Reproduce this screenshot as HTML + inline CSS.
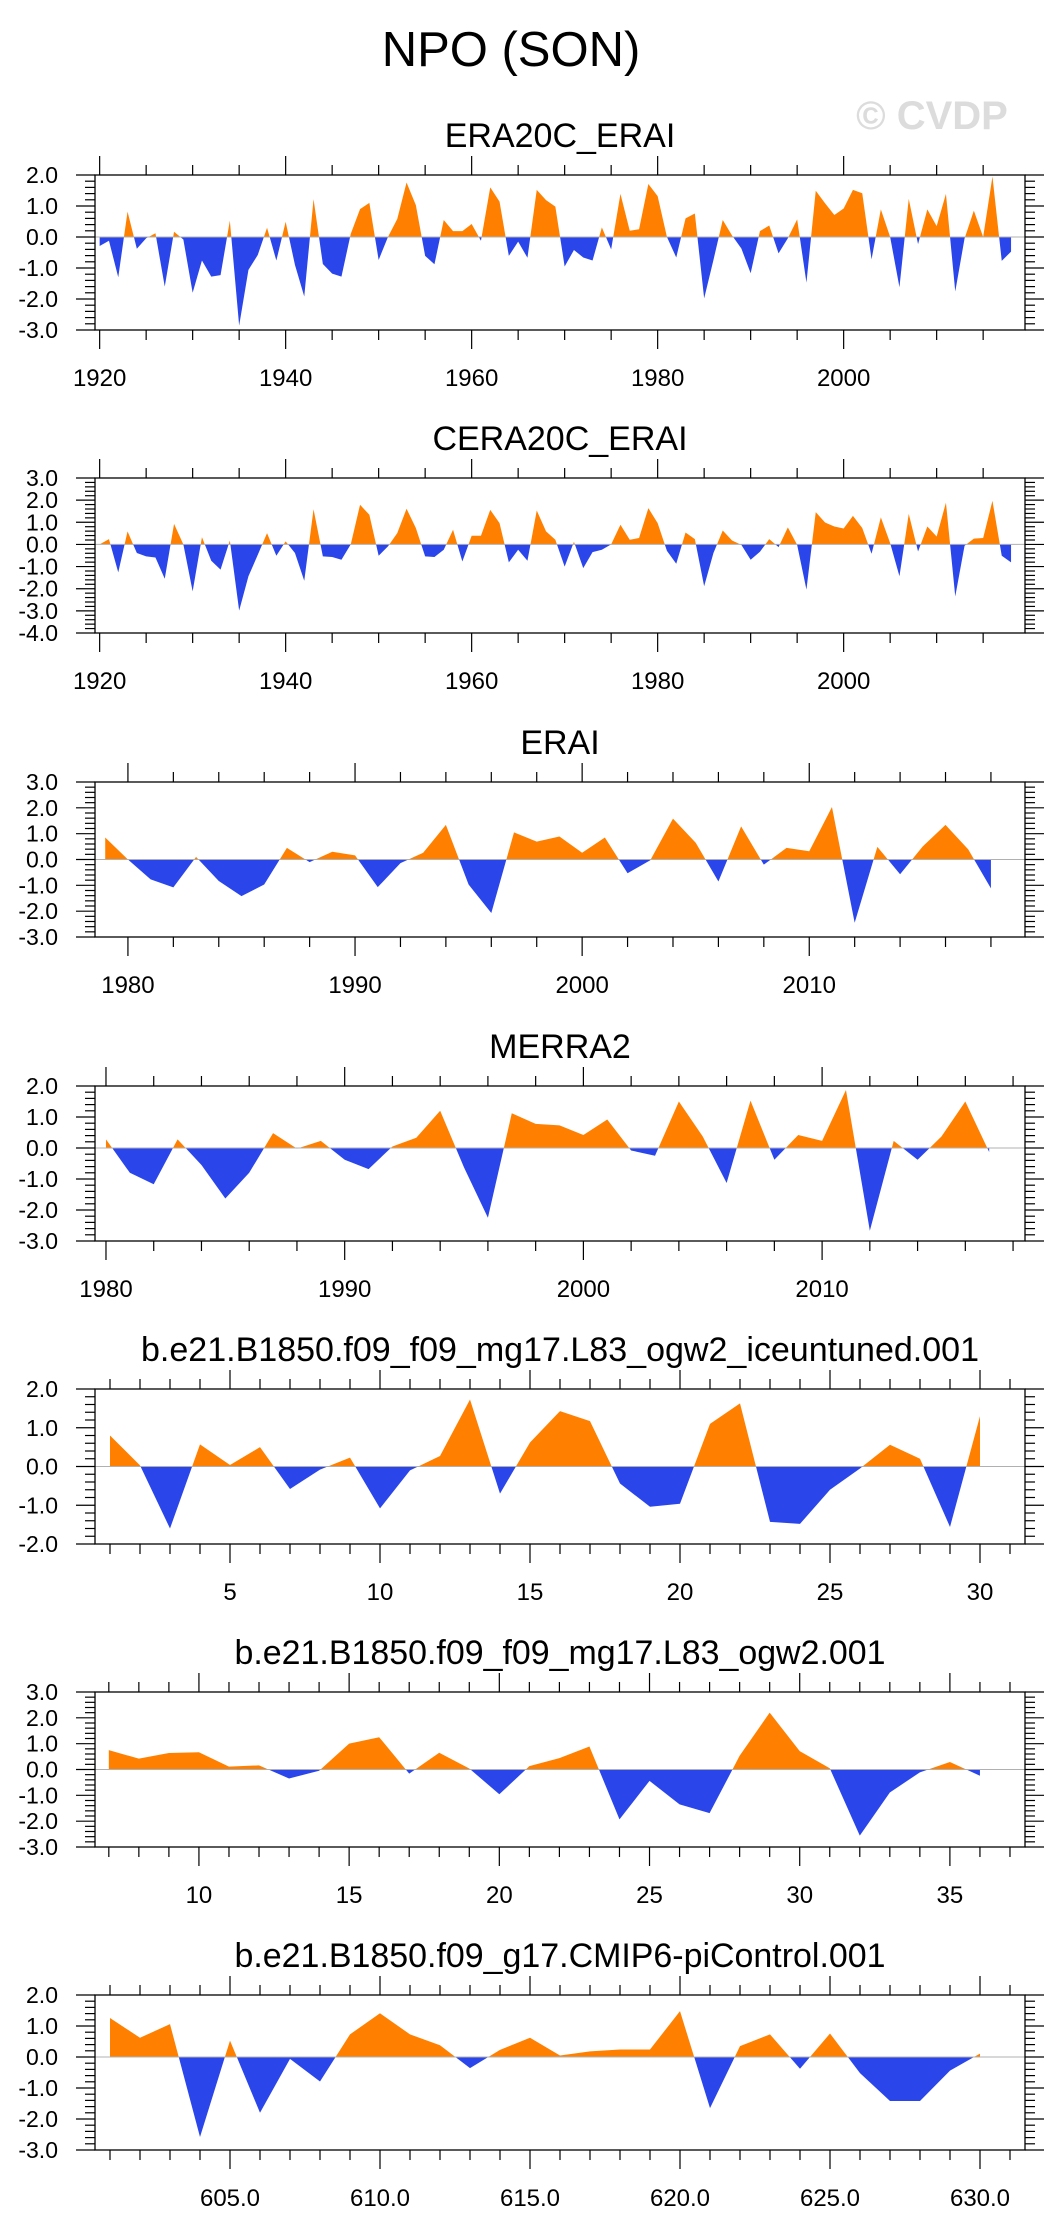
<!DOCTYPE html>
<html><head><meta charset="utf-8"><style>
html,body{margin:0;padding:0;background:#fff;}
svg{display:block;}
text{font-family:"Liberation Sans",Arial,sans-serif;fill:#000;}
</style></head>
<body>
<svg id="chart" width="1058" height="2236" viewBox="0 0 1058 2236" xmlns="http://www.w3.org/2000/svg">
<text x="511" y="66" font-size="49" text-anchor="middle">NPO (SON)</text>
<text x="932" y="129" font-size="40" font-weight="bold" text-anchor="middle" style="fill:#dcdcdc">© CVDP</text>
</svg>
<script>
// ---- data arrays ----
const era20cStart = 1920;
const era20cValues = [-0.29,-0.12,-1.3,0.82,-0.38,-0.04,0.12,-1.6,0.17,-0.08,-1.8,-0.76,-1.28,-1.23,0.53,-2.86,-1.06,-0.58,0.3,-0.76,0.49,-0.9,-1.92,1.22,-0.87,-1.18,-1.28,0.1,0.9,1.1,-0.74,0.0,0.58,1.76,1.03,-0.61,-0.88,0.55,0.19,0.19,0.42,-0.12,1.6,1.14,-0.61,-0.15,-0.67,1.52,1.19,0.98,-0.95,-0.42,-0.66,-0.76,0.31,-0.4,1.39,0.2,0.25,1.71,1.32,0.0,-0.66,0.6,0.76,-1.98,-0.74,0.55,0.05,-0.37,-1.17,0.19,0.37,-0.53,-0.04,0.57,-1.47,1.49,1.09,0.71,0.92,1.52,1.41,-0.72,0.89,0.0,-1.62,1.23,-0.23,0.89,0.35,1.39,-1.76,-0.05,0.85,0.0,1.95,-0.77,-0.47];
const cera20cStart = 1920;
const cera20cValues = [0.0,0.24,-1.26,0.59,-0.39,-0.54,-0.59,-1.55,0.93,0.0,-2.12,0.33,-0.74,-1.14,0.18,-2.99,-1.44,-0.47,0.51,-0.51,0.14,-0.39,-1.64,1.59,-0.54,-0.57,-0.69,0.0,1.79,1.34,-0.51,-0.09,0.51,1.61,0.74,-0.54,-0.57,-0.24,0.66,-0.77,0.39,0.39,1.56,0.96,-0.81,-0.24,-0.74,1.53,0.59,0.21,-1.0,0.12,-1.07,-0.35,-0.24,0.0,0.89,0.21,0.29,1.64,0.96,-0.29,-0.87,0.54,0.24,-1.89,-0.39,0.63,0.18,-0.02,-0.69,-0.33,0.24,-0.12,0.77,-0.02,-2.04,1.46,0.99,0.81,0.72,1.29,0.74,-0.42,1.22,0.06,-1.44,1.38,-0.32,0.81,0.36,1.89,-2.35,-0.06,0.26,0.29,1.97,-0.51,-0.81];
const eraiStart = 1979;
const eraiValues = [0.85,0.0,-0.77,-1.08,0.1,-0.83,-1.42,-0.97,0.45,-0.1,0.3,0.16,-1.07,-0.14,0.26,1.34,-0.97,-2.07,1.05,0.69,0.89,0.26,0.85,-0.53,-0.03,1.58,0.65,-0.85,1.28,-0.2,0.45,0.32,2.03,-2.45,0.49,-0.57,0.51,1.34,0.39,-1.12];
const merra2Start = 1980;
const merra2Values = [0.28,-0.8,-1.17,0.28,-0.55,-1.63,-0.8,0.48,-0.02,0.23,-0.38,-0.68,0.05,0.33,1.2,-0.63,-2.25,1.12,0.78,0.73,0.42,0.92,-0.08,-0.25,1.5,0.37,-1.13,1.53,-0.38,0.42,0.23,1.87,-2.67,0.23,-0.38,0.37,1.5,-0.13];
const iceStart = 1;
const iceValues = [0.8,0.03,-1.6,0.57,0.04,0.5,-0.58,-0.08,0.23,-1.08,-0.1,0.27,1.73,-0.7,0.62,1.43,1.17,-0.44,-1.04,-0.96,1.1,1.63,-1.43,-1.48,-0.6,-0.05,0.56,0.2,-1.56,1.3];
const ogwStart = 7;
const ogwValues = [0.75,0.42,0.64,0.67,0.11,0.16,-0.35,-0.05,1.0,1.25,-0.16,0.65,0.04,-0.96,0.13,0.44,0.89,-1.93,-0.44,-1.35,-1.69,0.53,2.2,0.71,0.05,-2.56,-0.89,-0.11,0.29,-0.24];
const picStart = 601;
const picValues = [1.26,0.62,1.06,-2.58,0.53,-1.8,-0.06,-0.79,0.73,1.41,0.73,0.38,-0.36,0.23,0.62,0.05,0.18,0.24,0.24,1.48,-1.65,0.35,0.73,-0.38,0.76,-0.52,-1.42,-1.42,-0.44,0.11];
// tick labels
const yearTicks20 = ["1920","1940","1960","1980","2000"];
const yearTicks10a = ["1980","1990","2000","2010"];
const simTicks1 = ["5","10","15","20","25","30"];
const simTicks2 = ["10","15","20","25","30","35"];
const picTicks = ["605.0","610.0","615.0","620.0","625.0","630.0"];

const NS = "http://www.w3.org/2000/svg";
const svg = document.getElementById("chart");
const L = 95, R = 1025, H = 155;
function mk(tag, attrs, parent) {
  const e = document.createElementNS(NS, tag);
  for (const k in attrs) e.setAttribute(k, attrs[k]);
  (parent || svg).appendChild(e);
  return e;
}

const panels = [
  {key:"era20c-erai", title:"ERA20C_ERAI", top:175, ymin:-3, ymax:2, xmin:1919.5, xmax:2019.5, start:era20cStart, vals:era20cValues, major:20, minor:5, labels:yearTicks20, first:1920, tl:null},
  {key:"cera20c-erai", title:"CERA20C_ERAI", top:478, ymin:-4, ymax:3, xmin:1919.5, xmax:2019.5, start:cera20cStart, vals:cera20cValues, major:20, minor:5, labels:yearTicks20, first:1920, tl:null},
  {key:"erai", title:"ERAI", top:782, ymin:-3, ymax:3, xmin:1978.55, xmax:2019.5, start:eraiStart, vals:eraiValues, major:10, minor:2, labels:yearTicks10a, first:1980, tl:null},
  {key:"merra2", title:"MERRA2", top:1086, ymin:-3, ymax:2, xmin:1979.54, xmax:2018.5, start:merra2Start, vals:merra2Values, major:10, minor:2, labels:yearTicks10a, first:1980, tl:null},
  {key:"iceuntuned", title:"b.e21.B1850.f09_f09_mg17.L83_ogw2_iceuntuned.001", top:1389, ymin:-2, ymax:2, xmin:0.5, xmax:31.5, start:iceStart, vals:iceValues, major:5, minor:1, labels:simTicks1, first:5, tl:838},
  {key:"ogw2", title:"b.e21.B1850.f09_f09_mg17.L83_ogw2.001", top:1692, ymin:-3, ymax:3, xmin:6.54, xmax:37.5, start:ogwStart, vals:ogwValues, major:5, minor:1, labels:simTicks2, first:10, tl:651},
  {key:"picontrol", title:"b.e21.B1850.f09_g17.CMIP6-piControl.001", top:1995, ymin:-3, ymax:2, xmin:600.5, xmax:631.5, start:picStart, vals:picValues, major:5, minor:1, labels:picTicks, first:605, tl:651}
];

panels.forEach((p, pi) => {
  const g = mk("g", {});
  
  
  const T = p.top, B = p.top + H;
  const xs = v => L + (v - p.xmin) / (p.xmax - p.xmin) * (R - L);
  const ys = v => B - (v - p.ymin) / (p.ymax - p.ymin) * H;
  const y0 = ys(0);
  // title
  const t = mk("text", {x:560, y:T - 28, "font-size":34, "text-anchor":"middle"}, g);
  if (p.tl) { t.setAttribute("textLength", p.tl); t.setAttribute("lengthAdjust", "spacingAndGlyphs"); }
  t.textContent = p.title;
  
  
  // clip paths
  const defs = mk("defs", {}, g);
  const cpA = mk("clipPath", {id:"above" + pi}, defs);
  mk("rect", {x:L, y:T, width:R - L, height:y0 - T}, cpA);
  const cpB = mk("clipPath", {id:"below" + pi}, defs);
  mk("rect", {x:L, y:y0, width:R - L, height:B - y0}, cpB);
  let d = "M" + xs(p.start).toFixed(2) + "," + y0.toFixed(2);
  p.vals.forEach((v, i) => { d += " L" + xs(p.start + i).toFixed(2) + "," + ys(v).toFixed(2); });
  d += " L" + xs(p.start + p.vals.length - 1).toFixed(2) + "," + y0.toFixed(2) + " Z";
  const pos = mk("path", {d:d, fill:"#ff8000", "clip-path":"url(#above" + pi + ")"}, g);
  
  
  const neg = mk("path", {d:d, fill:"#2a45ea", "clip-path":"url(#below" + pi + ")"}, g);
  
  
  const zl = mk("line", {x1:L, x2:R, y1:y0, y2:y0, stroke:"#b0b0b0", "stroke-width":1}, g);
  
  
  // frame
  const fr = mk("rect", {x:L, y:T, width:R - L, height:H, fill:"none", stroke:"#000", "stroke-width":1.3}, g);
  
  
  // x ticks
  const tg = mk("g", {stroke:"#000", "stroke-width":1.2}, g);
  
  
  const startTick = Math.ceil(p.xmin / p.minor) * p.minor;
  for (let v = startTick; v <= p.xmax + 1e-9; v += p.minor) {
    const isMaj = Math.abs(((v - p.first) % p.major + p.major) % p.major) < 1e-6;
    const len = isMaj ? 19 : 10;
    const x = xs(v);
    mk("line", {x1:x, x2:x, y1:B, y2:B + len}, tg);
    mk("line", {x1:x, x2:x, y1:T, y2:T - len}, tg);
  }
  p.labels.forEach((lab, i) => {
    const v = p.first + i * p.major;
    const tx = mk("text", {x:xs(v), y:B + 56, "font-size":24, "text-anchor":"middle"}, g);
    tx.textContent = lab;
    
    
  });
  // y ticks
  const yg = mk("g", {stroke:"#000", "stroke-width":1.2}, g);
  
  
  for (let k = Math.round(p.ymin * 5); k <= Math.round(p.ymax * 5); k++) {
    const v = k / 5, y = ys(v);
    const maj = k % 5 === 0;
    const len = maj ? 19 : 10;
    mk("line", {x1:L, x2:L - len, y1:y, y2:y}, yg);
    mk("line", {x1:R, x2:R + len, y1:y, y2:y}, yg);
    if (maj) {
      const ty = mk("text", {x:58, y:y + 8, "font-size":23, "text-anchor":"end"}, g);
      ty.textContent = v.toFixed(1);
      
      
    }
  }
});
</script>
</body></html>
